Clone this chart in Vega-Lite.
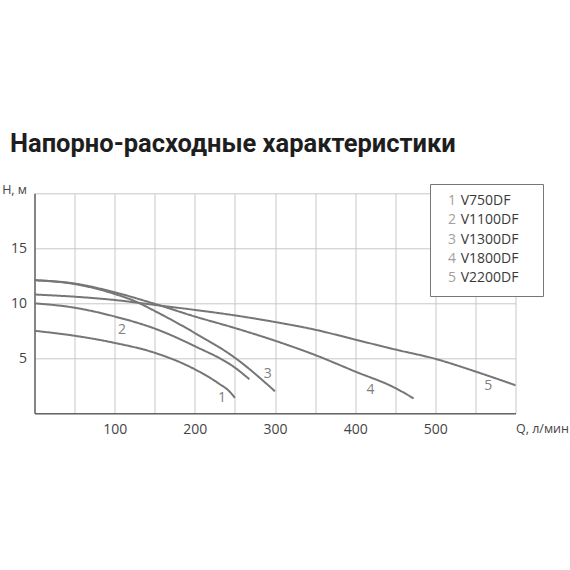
{
  "$schema": "https://vega.github.io/schema/vega-lite/v6.json",
  "autosize": "none",
  "width": 481,
  "height": 220,
  "padding": {"left": 34.5, "top": 193.3, "right": 54.5, "bottom": 156.7},
  "background": "white",
  "title": {
    "text": "Напорно-расходные характеристики",
    "anchor": "start",
    "frame": "group",
    "dx": -24.5,
    "offset": 26,
    "font": "Roboto",
    "fontSize": 25.5,
    "fontWeight": "bold",
    "color": "#1e1e1e"
  },
  "datasets": {
    "curves": [
      {"num": "1", "model": "V750DF", "q": 0, "h": 7.5},
      {"num": "1", "model": "V750DF", "q": 50, "h": 7.05},
      {"num": "1", "model": "V750DF", "q": 100, "h": 6.4},
      {"num": "1", "model": "V750DF", "q": 150, "h": 5.5},
      {"num": "1", "model": "V750DF", "q": 200, "h": 4.0},
      {"num": "1", "model": "V750DF", "q": 230, "h": 2.7},
      {"num": "1", "model": "V750DF", "q": 243, "h": 2.0},
      {"num": "1", "model": "V750DF", "q": 250, "h": 1.4},
      {"num": "2", "model": "V1100DF", "q": 0, "h": 10.0},
      {"num": "2", "model": "V1100DF", "q": 50, "h": 9.6},
      {"num": "2", "model": "V1100DF", "q": 100, "h": 8.8},
      {"num": "2", "model": "V1100DF", "q": 150, "h": 7.7},
      {"num": "2", "model": "V1100DF", "q": 200, "h": 6.1},
      {"num": "2", "model": "V1100DF", "q": 250, "h": 4.15},
      {"num": "2", "model": "V1100DF", "q": 268, "h": 3.1},
      {"num": "3", "model": "V1300DF", "q": 0, "h": 12.1},
      {"num": "3", "model": "V1300DF", "q": 50, "h": 11.75},
      {"num": "3", "model": "V1300DF", "q": 100, "h": 10.85},
      {"num": "3", "model": "V1300DF", "q": 125, "h": 10.2},
      {"num": "3", "model": "V1300DF", "q": 150, "h": 9.3},
      {"num": "3", "model": "V1300DF", "q": 200, "h": 7.3},
      {"num": "3", "model": "V1300DF", "q": 250, "h": 5.05},
      {"num": "3", "model": "V1300DF", "q": 300, "h": 2.0},
      {"num": "4", "model": "V1800DF", "q": 0, "h": 12.1},
      {"num": "4", "model": "V1800DF", "q": 50, "h": 11.8},
      {"num": "4", "model": "V1800DF", "q": 100, "h": 11.0},
      {"num": "4", "model": "V1800DF", "q": 150, "h": 9.95},
      {"num": "4", "model": "V1800DF", "q": 200, "h": 8.8},
      {"num": "4", "model": "V1800DF", "q": 250, "h": 7.75},
      {"num": "4", "model": "V1800DF", "q": 300, "h": 6.6},
      {"num": "4", "model": "V1800DF", "q": 350, "h": 5.3},
      {"num": "4", "model": "V1800DF", "q": 400, "h": 3.8},
      {"num": "4", "model": "V1800DF", "q": 450, "h": 2.3},
      {"num": "4", "model": "V1800DF", "q": 473, "h": 1.35},
      {"num": "5", "model": "V2200DF", "q": 0, "h": 10.8},
      {"num": "5", "model": "V2200DF", "q": 50, "h": 10.6},
      {"num": "5", "model": "V2200DF", "q": 100, "h": 10.3},
      {"num": "5", "model": "V2200DF", "q": 150, "h": 9.85},
      {"num": "5", "model": "V2200DF", "q": 200, "h": 9.4},
      {"num": "5", "model": "V2200DF", "q": 250, "h": 8.9},
      {"num": "5", "model": "V2200DF", "q": 300, "h": 8.3},
      {"num": "5", "model": "V2200DF", "q": 350, "h": 7.6},
      {"num": "5", "model": "V2200DF", "q": 400, "h": 6.7},
      {"num": "5", "model": "V2200DF", "q": 450, "h": 5.8},
      {"num": "5", "model": "V2200DF", "q": 500, "h": 4.95},
      {"num": "5", "model": "V2200DF", "q": 550, "h": 3.8},
      {"num": "5", "model": "V2200DF", "q": 600, "h": 2.55}
    ],
    "labels": [
      {"label": "1", "q": 234, "h": 1.4},
      {"label": "2", "q": 109, "h": 7.6},
      {"label": "3", "q": 291, "h": 3.55},
      {"label": "4", "q": 419, "h": 2.1},
      {"label": "5", "q": 566, "h": 2.45}
    ]
  },
  "layer": [
    {
      "data": {"name": "curves"},
      "mark": {"type": "line", "interpolate": "monotone", "strokeWidth": 2, "clip": false},
      "encoding": {
        "x": {
          "field": "q",
          "type": "quantitative",
          "scale": {"domain": [0, 600], "nice": false},
          "axis": {
            "values": [0, 50, 100, 150, 200, 250, 300, 350, 400, 450, 500, 550, 600],
            "title": null,
            "ticks": false,
            "domainColor": "#666666",
            "domainWidth": 1.5,
            "gridColor": "#c8c8c8",
            "labelExpr": "datum.value == 600 ? 'Q, л/мин' : (datum.value > 0 && datum.value % 100 == 0 ? datum.label : '')",
            "labelAlign": {"condition": {"test": "datum.value == 600", "value": "left"}, "value": "center"},
            "labelFontSize": {"condition": {"test": "datum.value == 600", "value": 12.5}, "value": 14},
            "labelPadding": 9,
            "labelFont": "Open Sans",
            "labelColor": "#444444",
            "labelOverlap": false,
            "labelFlush": false,
            "labelBound": false
          }
        },
        "y": {
          "field": "h",
          "type": "quantitative",
          "scale": {"domain": [0, 20], "nice": false},
          "axis": {
            "values": [0, 5, 10, 15, 20],
            "title": null,
            "ticks": false,
            "domainColor": "#666666",
            "domainWidth": 1.5,
            "gridColor": "#c8c8c8",
            "labelExpr": "datum.value == 20 ? 'H, м' : (datum.value == 0 ? '' : datum.label)",
            "labelBaseline": {"condition": {"test": "datum.value == 20", "value": "alphabetic"}, "value": "middle"},
            "labelFontSize": {"condition": {"test": "datum.value == 20", "value": 12.5}, "value": 14},
            "labelPadding": 8,
            "labelFont": "Open Sans",
            "labelColor": "#444444",
            "labelOverlap": false,
            "labelFlush": false,
            "labelBound": false
          }
        },
        "stroke": {
          "field": "model",
          "type": "nominal",
          "sort": ["V750DF", "V1100DF", "V1300DF", "V1800DF", "V2200DF"],
          "scale": {"range": ["#767676", "#767676", "#767676", "#767676", "#767676"]},
          "legend": {
            "orient": "none",
            "legendX": 395.5,
            "legendY": -9.3,
            "title": null,
            "padding": 10,
            "strokeColor": "#777777",
            "fillColor": "#ffffff",
            "labelExpr": "pad(datum.label, 11, '\u00a0') + '\u200b'",
            "labelColor": "#3a3a3a",
            "labelFont": "Open Sans",
            "labelFontSize": 14,
            "symbolSize": 1,
            "symbolOpacity": 0,
            "symbolStrokeWidth": 0,
            "labelOffset": 6.7,
            "rowPadding": 5.3
          }
        },
        "strokeDash": {
          "field": "num",
          "type": "nominal",
          "scale": {"range": [[1, 0], [1, 0], [1, 0], [1, 0], [1, 0]]},
          "legend": {
            "orient": "none",
            "legendX": 395.5,
            "legendY": -9.3,
            "title": null,
            "padding": 10,
            "labelColor": "#a0a0a0",
            "labelFont": "Open Sans",
            "labelFontSize": 14,
            "symbolSize": 1,
            "symbolOpacity": 0,
            "symbolStrokeWidth": 0,
            "labelOffset": -6,
            "rowPadding": 5.3
          }
        }
      }
    },
    {
      "data": {"name": "labels"},
      "mark": {"type": "text", "font": "Open Sans", "fontSize": 14, "color": "#808080"},
      "encoding": {
        "x": {"field": "q", "type": "quantitative"},
        "y": {"field": "h", "type": "quantitative"},
        "text": {"field": "label"}
      }
    }
  ],
  "config": {
    "view": {"stroke": null}
  }
}
